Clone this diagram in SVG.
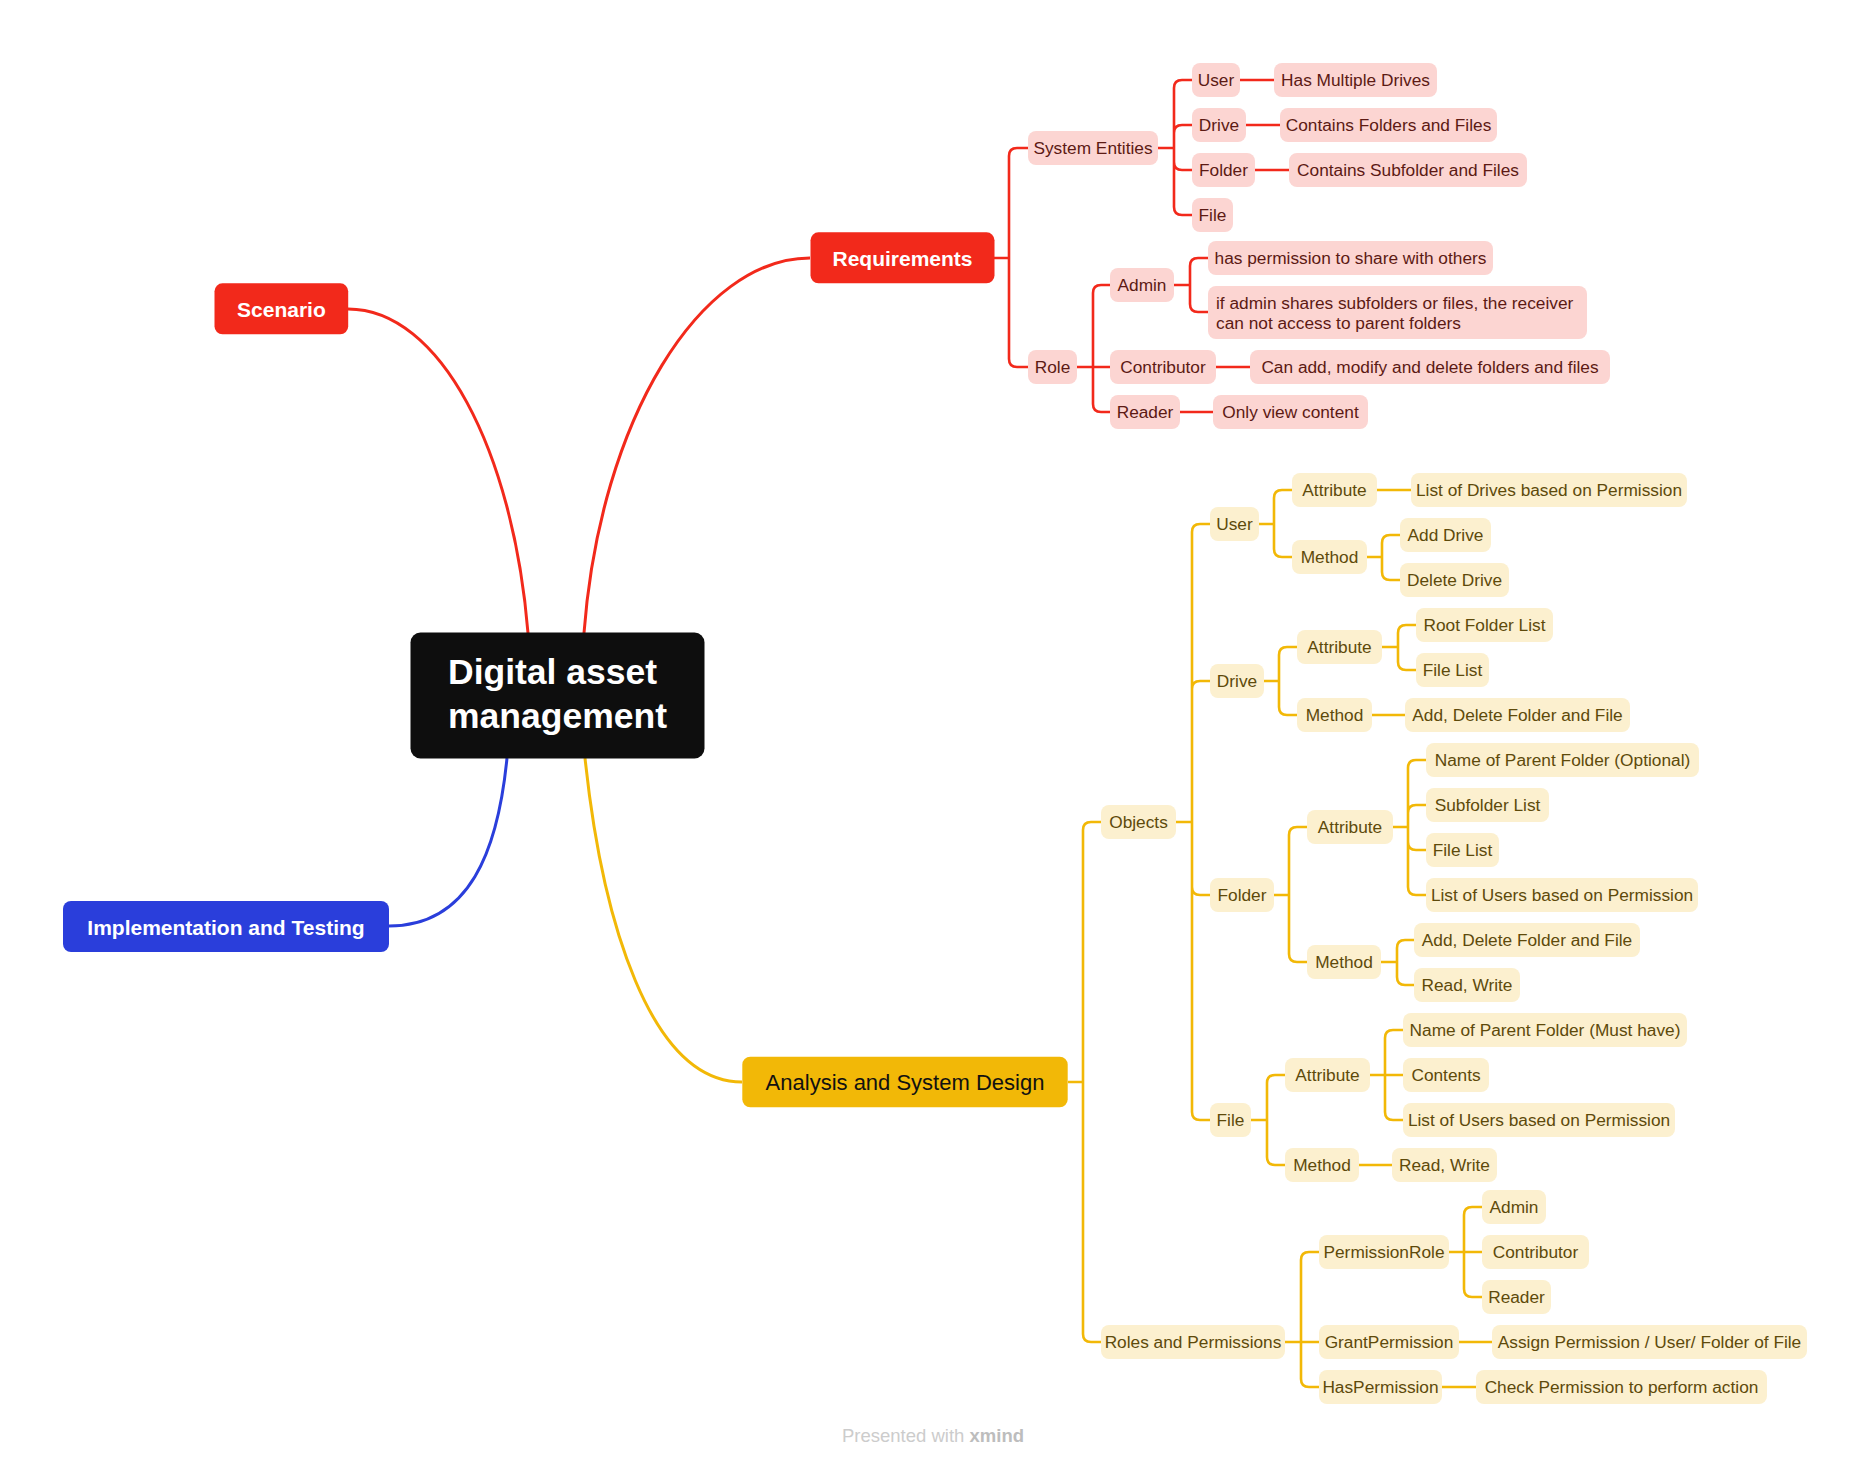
<svg xmlns="http://www.w3.org/2000/svg" width="1870" height="1468" viewBox="0 0 1870 1468">
<style>
text{font-family:"Liberation Sans",Arial,sans-serif}
.main{stroke-width:3;fill:none}
.rl{stroke:#F2291B;stroke-width:2.6;fill:none}
.yl{stroke:#F2B807;stroke-width:2.6;fill:none}
.rc rect{fill:#FCD5D2}
.rc text{fill:#5C1A14;font-size:17.3px;text-anchor:middle}
.yc rect{fill:#FCF0CF}
.yc text{fill:#5E4A0B;font-size:17.3px;text-anchor:middle}
.top text{fill:#fff;font-size:21px;font-weight:bold;text-anchor:middle}
</style>
<rect width="1870" height="1468" fill="#fff"/>
<g id="connectors">
<path class="main" stroke="#F2291B" d="M348,309 C440,309 513,450 528,633"/>
<path class="main" stroke="#F2291B" d="M810,258 C700,258 600,420 584,633"/>
<path class="main" stroke="#2A3EDB" d="M389,926 C470,926 498,850 507,758"/>
<path class="main" stroke="#F2B807" d="M742,1082 C650,1082 602,920 585,758"/>
<path class="rl" d="M994,258 H1009 V156 Q1009,148 1017,148 H1028 M994,258 H1009 V359 Q1009,367 1017,367 H1028"/>
<path class="rl" d="M1158,148 H1174 V88 Q1174,80 1182,80 H1192 M1158,148 H1174 V133 Q1174,125 1182,125 H1192 M1158,148 H1174 V162 Q1174,170 1182,170 H1192 M1158,148 H1174 V207 Q1174,215 1182,215 H1192"/>
<path class="rl" d="M1240,80 H1274 M1246,125 H1280 M1255,170 H1289"/>
<path class="rl" d="M1077,367 H1093 V293 Q1093,285 1101,285 H1110 M1077,367 H1110 M1077,367 H1093 V404 Q1093,412 1101,412 H1110"/>
<path class="rl" d="M1174,285 H1190 V266 Q1190,258 1198,258 H1208 M1174,285 H1190 V304 Q1190,312 1198,312 H1208"/>
<path class="rl" d="M1216,367 H1250 M1180,412 H1213"/>
<path class="yl" d="M1068,1082 H1083 V830 Q1083,822 1091,822 H1101 M1068,1082 H1083 V1334 Q1083,1342 1091,1342 H1101"/>
<path class="yl" d="M1176,822 H1192 V532 Q1192,524 1200,524 H1210 M1176,822 H1192 V689 Q1192,681 1200,681 H1210 M1176,822 H1192 V887 Q1192,895 1200,895 H1210 M1176,822 H1192 V1112 Q1192,1120 1200,1120 H1210"/>
<path class="yl" d="M1259,524 H1274 V498 Q1274,490 1282,490 H1292 M1259,524 H1274 V549 Q1274,557 1282,557 H1292"/>
<path class="yl" d="M1377,490 H1411"/>
<path class="yl" d="M1367,557 H1382 V543 Q1382,535 1390,535 H1400 M1367,557 H1382 V572 Q1382,580 1390,580 H1400"/>
<path class="yl" d="M1264,681 H1279 V655 Q1279,647 1287,647 H1297 M1264,681 H1279 V707 Q1279,715 1287,715 H1297"/>
<path class="yl" d="M1382,647 H1398 V633 Q1398,625 1406,625 H1416 M1382,647 H1398 V662 Q1398,670 1406,670 H1416"/>
<path class="yl" d="M1372,715 H1405"/>
<path class="yl" d="M1274,895 H1289 V835 Q1289,827 1297,827 H1307 M1274,895 H1289 V954 Q1289,962 1297,962 H1307"/>
<path class="yl" d="M1393,827 H1408 V768 Q1408,760 1416,760 H1426 M1393,827 H1408 V813 Q1408,805 1416,805 H1426 M1393,827 H1408 V842 Q1408,850 1416,850 H1426 M1393,827 H1408 V887 Q1408,895 1416,895 H1426"/>
<path class="yl" d="M1381,962 H1397 V948 Q1397,940 1405,940 H1414 M1381,962 H1397 V977 Q1397,985 1405,985 H1414"/>
<path class="yl" d="M1251,1120 H1267 V1083 Q1267,1075 1275,1075 H1285 M1251,1120 H1267 V1157 Q1267,1165 1275,1165 H1285"/>
<path class="yl" d="M1370,1075 H1385 V1038 Q1385,1030 1393,1030 H1403 M1370,1075 H1403 M1370,1075 H1385 V1112 Q1385,1120 1393,1120 H1403"/>
<path class="yl" d="M1359,1165 H1392"/>
<path class="yl" d="M1285,1342 H1301 V1260 Q1301,1252 1309,1252 H1319 M1285,1342 H1319 M1285,1342 H1301 V1379 Q1301,1387 1309,1387 H1319"/>
<path class="yl" d="M1449,1252 H1464 V1215 Q1464,1207 1472,1207 H1482 M1449,1252 H1482 M1449,1252 H1464 V1289 Q1464,1297 1472,1297 H1482"/>
<path class="yl" d="M1459,1342 H1492 M1442,1387 H1476"/>
</g>
<g id="central">
<rect x="410.5" y="632.5" width="294" height="126" rx="10" fill="#0E0E0E"/>
<text x="448" y="684.3" fill="#fff" font-size="35.5" font-weight="bold">Digital asset</text>
<text x="448" y="728.3" fill="#fff" font-size="35.5" font-weight="bold">management</text>
</g>
<g id="scenario" class="top"><rect x="214.5" y="283.3" width="133.7" height="51" rx="8" fill="#F2291B"/><text x="281.4" y="316.6">Scenario</text></g>
<g id="requirements" class="top"><rect x="810.5" y="232.3" width="184" height="51" rx="8" fill="#F2291B"/><text x="902.5" y="265.7">Requirements</text></g>
<g id="implementation" class="top"><rect x="63" y="901" width="326" height="51" rx="8" fill="#2A3EDB"/><text x="226" y="934.5">Implementation and Testing</text></g>
<g id="analysis"><rect x="742.3" y="1056.7" width="325.4" height="50.6" rx="8" fill="#F2B807"/><text x="905" y="1090" fill="#111" font-size="22" text-anchor="middle">Analysis and System Design</text></g>
<g id="req-system-entities" class="rc"><rect x="1028" y="131" width="130" height="34" rx="8"/><text x="1093" y="154">System Entities</text></g>
<g id="req-user" class="rc"><rect x="1192" y="63" width="48" height="34" rx="8"/><text x="1216" y="86">User</text></g>
<g id="req-user-drives" class="rc"><rect x="1274" y="63" width="163" height="34" rx="8"/><text x="1355.5" y="86">Has Multiple Drives</text></g>
<g id="req-drive" class="rc"><rect x="1192" y="108" width="54" height="34" rx="8"/><text x="1219" y="131">Drive</text></g>
<g id="req-drive-contains" class="rc"><rect x="1280" y="108" width="217" height="34" rx="8"/><text x="1388.5" y="131">Contains Folders and Files</text></g>
<g id="req-folder" class="rc"><rect x="1192" y="153" width="63" height="34" rx="8"/><text x="1223.5" y="176">Folder</text></g>
<g id="req-folder-contains" class="rc"><rect x="1289" y="153" width="238" height="34" rx="8"/><text x="1408" y="176">Contains Subfolder and Files</text></g>
<g id="req-file" class="rc"><rect x="1192" y="198" width="41" height="34" rx="8"/><text x="1212.5" y="221">File</text></g>
<g id="req-role" class="rc"><rect x="1028" y="350" width="49" height="34" rx="8"/><text x="1052.5" y="373">Role</text></g>
<g id="req-admin" class="rc"><rect x="1110" y="268" width="64" height="34" rx="8"/><text x="1142" y="291">Admin</text></g>
<g id="req-admin-share" class="rc"><rect x="1208" y="241" width="285" height="34" rx="8"/><text x="1350.5" y="264">has permission to share with others</text></g>
<g id="req-admin-parent" class="rc"><rect x="1208" y="286" width="379" height="53" rx="8"/><text x="1216" y="308.5" style="text-anchor:start">if admin shares subfolders or files, the receiver</text><text x="1216" y="328.5" style="text-anchor:start">can not access to parent folders</text></g>
<g id="req-contributor" class="rc"><rect x="1110" y="350" width="106" height="34" rx="8"/><text x="1163" y="373">Contributor</text></g>
<g id="req-contributor-can" class="rc"><rect x="1250" y="350" width="360" height="34" rx="8"/><text x="1430" y="373">Can add, modify and delete folders and files</text></g>
<g id="req-reader" class="rc"><rect x="1110" y="395" width="70" height="34" rx="8"/><text x="1145" y="418">Reader</text></g>
<g id="req-reader-view" class="rc"><rect x="1213" y="395" width="155" height="34" rx="8"/><text x="1290.5" y="418">Only view content</text></g>
<g id="asd-objects" class="yc"><rect x="1101" y="805" width="75" height="34" rx="8"/><text x="1138.5" y="828">Objects</text></g>
<g id="asd-user" class="yc"><rect x="1210" y="507" width="49" height="34" rx="8"/><text x="1234.5" y="530">User</text></g>
<g id="asd-user-attr" class="yc"><rect x="1292" y="473" width="85" height="34" rx="8"/><text x="1334.5" y="496">Attribute</text></g>
<g id="asd-user-attr-drives" class="yc"><rect x="1411" y="473" width="276" height="34" rx="8"/><text x="1549" y="496">List of Drives based on Permission</text></g>
<g id="asd-user-method" class="yc"><rect x="1292" y="540" width="75" height="34" rx="8"/><text x="1329.5" y="563">Method</text></g>
<g id="asd-user-add" class="yc"><rect x="1400" y="518" width="91" height="34" rx="8"/><text x="1445.5" y="541">Add Drive</text></g>
<g id="asd-user-delete" class="yc"><rect x="1400" y="563" width="109" height="34" rx="8"/><text x="1454.5" y="586">Delete Drive</text></g>
<g id="asd-drive" class="yc"><rect x="1210" y="664" width="54" height="34" rx="8"/><text x="1237" y="687">Drive</text></g>
<g id="asd-drive-attr" class="yc"><rect x="1297" y="630" width="85" height="34" rx="8"/><text x="1339.5" y="653">Attribute</text></g>
<g id="asd-drive-root" class="yc"><rect x="1416" y="608" width="137" height="34" rx="8"/><text x="1484.5" y="631">Root Folder List</text></g>
<g id="asd-drive-files" class="yc"><rect x="1416" y="653" width="73" height="34" rx="8"/><text x="1452.5" y="676">File List</text></g>
<g id="asd-drive-method" class="yc"><rect x="1297" y="698" width="75" height="34" rx="8"/><text x="1334.5" y="721">Method</text></g>
<g id="asd-drive-add" class="yc"><rect x="1405" y="698" width="225" height="34" rx="8"/><text x="1517.5" y="721">Add, Delete Folder and File</text></g>
<g id="asd-folder" class="yc"><rect x="1210" y="878" width="64" height="34" rx="8"/><text x="1242" y="901">Folder</text></g>
<g id="asd-folder-attr" class="yc"><rect x="1307" y="810" width="86" height="34" rx="8"/><text x="1350" y="833">Attribute</text></g>
<g id="asd-folder-parent" class="yc"><rect x="1426" y="743" width="273" height="34" rx="8"/><text x="1562.5" y="766">Name of Parent Folder (Optional)</text></g>
<g id="asd-folder-sub" class="yc"><rect x="1426" y="788" width="123" height="34" rx="8"/><text x="1487.5" y="811">Subfolder List</text></g>
<g id="asd-folder-files" class="yc"><rect x="1426" y="833" width="73" height="34" rx="8"/><text x="1462.5" y="856">File List</text></g>
<g id="asd-folder-users" class="yc"><rect x="1426" y="878" width="272" height="34" rx="8"/><text x="1562" y="901">List of Users based on Permission</text></g>
<g id="asd-folder-method" class="yc"><rect x="1307" y="945" width="74" height="34" rx="8"/><text x="1344" y="968">Method</text></g>
<g id="asd-folder-add" class="yc"><rect x="1414" y="923" width="226" height="34" rx="8"/><text x="1527" y="946">Add, Delete Folder and File</text></g>
<g id="asd-folder-rw" class="yc"><rect x="1414" y="968" width="106" height="34" rx="8"/><text x="1467" y="991">Read, Write</text></g>
<g id="asd-file" class="yc"><rect x="1210" y="1103" width="41" height="34" rx="8"/><text x="1230.5" y="1126">File</text></g>
<g id="asd-file-attr" class="yc"><rect x="1285" y="1058" width="85" height="34" rx="8"/><text x="1327.5" y="1081">Attribute</text></g>
<g id="asd-file-parent" class="yc"><rect x="1403" y="1013" width="284" height="34" rx="8"/><text x="1545" y="1036">Name of Parent Folder (Must have)</text></g>
<g id="asd-file-contents" class="yc"><rect x="1403" y="1058" width="86" height="34" rx="8"/><text x="1446" y="1081">Contents</text></g>
<g id="asd-file-users" class="yc"><rect x="1403" y="1103" width="272" height="34" rx="8"/><text x="1539" y="1126">List of Users based on Permission</text></g>
<g id="asd-file-method" class="yc"><rect x="1285" y="1148" width="74" height="34" rx="8"/><text x="1322" y="1171">Method</text></g>
<g id="asd-file-rw" class="yc"><rect x="1392" y="1148" width="105" height="34" rx="8"/><text x="1444.5" y="1171">Read, Write</text></g>
<g id="asd-roles" class="yc"><rect x="1101" y="1325" width="184" height="34" rx="8"/><text x="1193" y="1348">Roles and Permissions</text></g>
<g id="asd-permrole" class="yc"><rect x="1319" y="1235" width="130" height="34" rx="8"/><text x="1384" y="1258">PermissionRole</text></g>
<g id="asd-permrole-admin" class="yc"><rect x="1482" y="1190" width="64" height="34" rx="8"/><text x="1514" y="1213">Admin</text></g>
<g id="asd-permrole-contributor" class="yc"><rect x="1482" y="1235" width="107" height="34" rx="8"/><text x="1535.5" y="1258">Contributor</text></g>
<g id="asd-permrole-reader" class="yc"><rect x="1482" y="1280" width="69" height="34" rx="8"/><text x="1516.5" y="1303">Reader</text></g>
<g id="asd-grant" class="yc"><rect x="1319" y="1325" width="140" height="34" rx="8"/><text x="1389" y="1348">GrantPermission</text></g>
<g id="asd-grant-assign" class="yc"><rect x="1492" y="1325" width="315" height="34" rx="8"/><text x="1649.5" y="1348">Assign Permission / User/ Folder of File</text></g>
<g id="asd-has" class="yc"><rect x="1319" y="1370" width="123" height="34" rx="8"/><text x="1380.5" y="1393">HasPermission</text></g>
<g id="asd-has-check" class="yc"><rect x="1476" y="1370" width="291" height="34" rx="8"/><text x="1621.5" y="1393">Check Permission to perform action</text></g>
<text x="842" y="1441.5" font-size="18.5" fill="#cccccc">Presented with <tspan font-weight="bold" fill="#bdbdbd">xmind</tspan></text>
</svg>
